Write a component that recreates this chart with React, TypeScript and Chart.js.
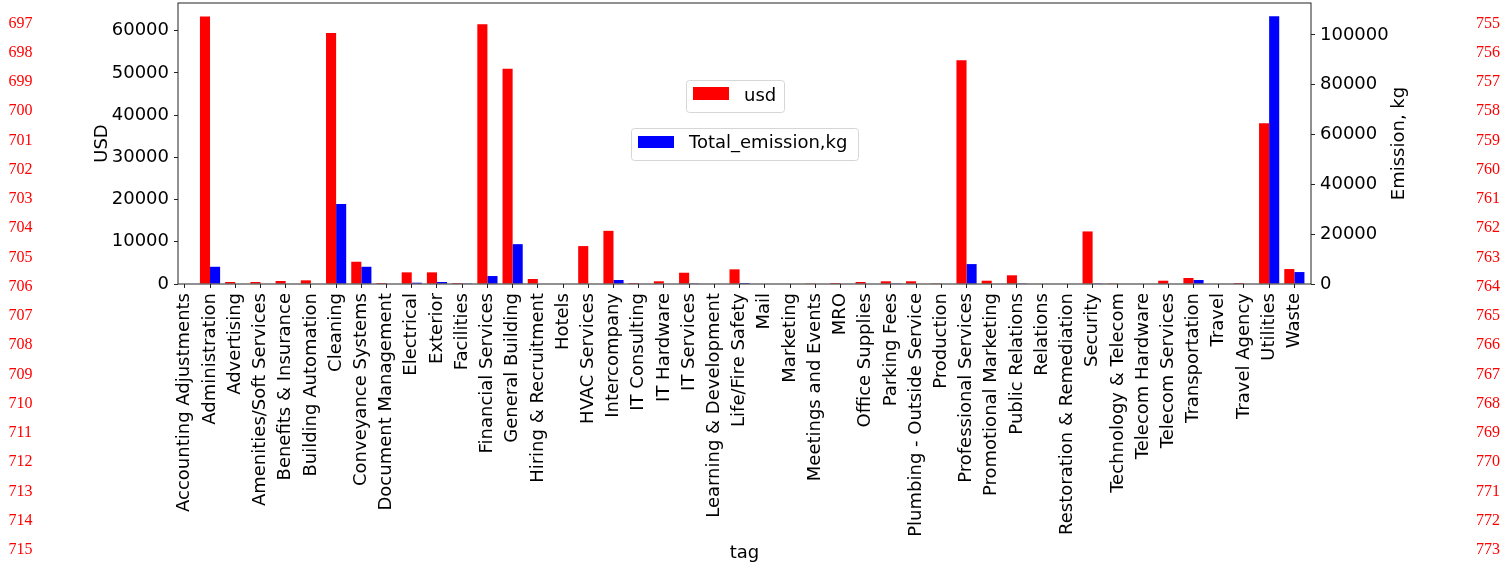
import React, { useEffect, useRef } from "react";
import { Chart, registerables } from "chart.js";

Chart.register(...registerables);

const CATEGORIES = [
  "Accounting Adjustments",
  "Administration",
  "Advertising",
  "Amenities/Soft Services",
  "Benefits & Insurance",
  "Building Automation",
  "Cleaning",
  "Conveyance Systems",
  "Document Management",
  "Electrical",
  "Exterior",
  "Facilities",
  "Financial Services",
  "General Building",
  "Hiring & Recruitment",
  "Hotels",
  "HVAC Services",
  "Intercompany",
  "IT Consulting",
  "IT Hardware",
  "IT Services",
  "Learning & Development",
  "Life/Fire Safety",
  "Mail",
  "Marketing",
  "Meetings and Events",
  "MRO",
  "Office Supplies",
  "Parking Fees",
  "Plumbing - Outside Service",
  "Production",
  "Professional Services",
  "Promotional Marketing",
  "Public Relations",
  "Relations",
  "Restoration & Remediation",
  "Security",
  "Technology & Telecom",
  "Telecom Hardware",
  "Telecom Services",
  "Transportation",
  "Travel",
  "Travel Agency",
  "Utilities",
  "Waste",
];

const USD_VALUES = [
  0, 63380, 470, 470, 710, 870, 59460, 5270, 240, 2760, 2760, 240, 61490,
  50960, 1180, 0, 8980, 12590, 240, 640, 2670, 0, 3470, 0, 0, 170, 240, 470,
  640, 640, 170, 52990, 780, 2060, 0, 0, 12450, 170, 0, 780, 1420, 0, 240,
  38100, 3540,
];

const EMISSION_VALUES = [
  0, 6920, 0, 0, 0, 0, 32120, 6920, 0, 520, 800, 280, 3200, 16000, 0, 0, 0,
  1600, 0, 0, 280, 0, 400, 0, 0, 0, 0, 0, 280, 0, 0, 8000, 0, 280, 0, 0, 280,
  0, 0, 0, 1600, 0, 0, 107480, 4800,
];

const SERIES_LABELS = ["usd", "Total_emission,kg"];
const SERIES_COLORS = ["#ff0000", "#0000ff"];

const USD_TICKS = [0, 10000, 20000, 30000, 40000, 50000, 60000];
const EMISSION_TICKS = [0, 20000, 40000, 60000, 80000, 100000];
const USD_AXIS_MAX = 66550;
const EMISSION_AXIS_MAX = 112850;

const X_TITLE = "tag";
const Y_TITLE = "USD";
const Y1_TITLE = "Emission, kg";

const LINE_NUMBERS_LEFT = [
  "697", "698", "699", "700", "701", "702", "703", "704", "705", "706",
  "707", "708", "709", "710", "711", "712", "713", "714", "715",
];
const LINE_NUMBERS_RIGHT = [
  "755", "756", "757", "758", "759", "760", "761", "762", "763", "764",
  "765", "766", "767", "768", "769", "770", "771", "772", "773",
];

const W = 1512;
const H = 565;
const FONT = "'DejaVu Sans', 'Noto Sans', sans-serif";
const AREA = { left: 178, right: 1311, top: 3, bottom: 284 };

function roundRectPath(ctx: CanvasRenderingContext2D, x: number, y: number, w: number, h: number, r: number) {
  ctx.beginPath();
  ctx.moveTo(x + r, y);
  ctx.lineTo(x + w - r, y);
  ctx.arcTo(x + w, y, x + w, y + r, r);
  ctx.lineTo(x + w, y + h - r);
  ctx.arcTo(x + w, y + h, x + w - r, y + h, r);
  ctx.lineTo(x + r, y + h);
  ctx.arcTo(x, y + h, x, y + h - r, r);
  ctx.lineTo(x, y + r);
  ctx.arcTo(x, y, x + r, y, r);
  ctx.closePath();
}

function drawLegendBox(
  ctx: CanvasRenderingContext2D,
  box: { x: number; y: number; w: number; h: number },
  swatch: { x: number; y: number; w: number; h: number },
  color: string,
  text: string,
  tx: number,
  ty: number
) {
  roundRectPath(ctx, box.x + 0.5, box.y + 0.5, box.w, box.h, 3);
  ctx.fillStyle = "rgba(255,255,255,0.8)";
  ctx.fill();
  ctx.strokeStyle = "#d6d6d6";
  ctx.lineWidth = 1;
  ctx.stroke();
  ctx.fillStyle = color;
  ctx.fillRect(swatch.x, swatch.y, swatch.w, swatch.h);
  ctx.fillStyle = "#000";
  ctx.font = `18px ${FONT}`;
  ctx.textAlign = "left";
  ctx.textBaseline = "alphabetic";
  ctx.fillText(text, tx, ty);
}

const overlayPlugin = {
  id: "overlay",
  afterDraw(chart: any) {
    const { ctx, chartArea } = chart;
    const { left, right, top, bottom } = chartArea;
    ctx.save();
    ctx.strokeStyle = "#222";
    ctx.lineWidth = 1;
    ctx.strokeRect(left, top, right - left, bottom - top);

    ctx.fillStyle = "#000";
    ctx.font = `18px ${FONT}`;
    ctx.textAlign = "center";
    ctx.textBaseline = "alphabetic";
    const midY = (top + bottom) / 2;
    ctx.save();
    ctx.translate(left - 71.5, midY);
    ctx.rotate(-Math.PI / 2);
    ctx.fillText(Y_TITLE, 0, 0);
    ctx.restore();
    ctx.save();
    ctx.translate(right + 93, midY);
    ctx.rotate(-Math.PI / 2);
    ctx.fillText(Y1_TITLE, 0, 0);
    ctx.restore();
    ctx.fillText(X_TITLE, (left + right) / 2, 558);

    drawLegendBox(
      ctx,
      { x: 686, y: 80, w: 98, h: 32 },
      { x: 693, y: 87, w: 36, h: 13 },
      SERIES_COLORS[0],
      SERIES_LABELS[0],
      744,
      101
    );
    drawLegendBox(
      ctx,
      { x: 631, y: 128, w: 227, h: 32 },
      { x: 638, y: 136, w: 36, h: 12 },
      SERIES_COLORS[1],
      SERIES_LABELS[1],
      689,
      148
    );
    ctx.restore();
  },
};

export default function App() {
  const ref = useRef<HTMLCanvasElement>(null);

  useEffect(() => {
    const canvas = ref.current;
    if (!canvas) return;
    const tickFont = { family: FONT, size: 18 };
    const chart = new Chart(canvas, {
      type: "bar",
      data: {
        datasets: [
          {
            label: SERIES_LABELS[0],
            data: CATEGORIES.map((_, i) => ({ x: i, y: USD_VALUES[i] })),
            backgroundColor: SERIES_COLORS[0],
            yAxisID: "y",
            categoryPercentage: 0.8,
            barPercentage: 1.0,
          },
          {
            label: SERIES_LABELS[1],
            data: CATEGORIES.map((_, i) => ({ x: i, y: EMISSION_VALUES[i] })),
            backgroundColor: SERIES_COLORS[1],
            yAxisID: "y1",
            categoryPercentage: 0.8,
            barPercentage: 1.0,
          },
        ],
      } as any,
      options: {
        responsive: false,
        animation: false,
        devicePixelRatio: 1,
        layout: { padding: { top: AREA.top, left: 0, right: 0, bottom: 0 } },
        plugins: {
          legend: { display: false },
          tooltip: { enabled: false },
        },
        scales: {
          x: {
            type: "linear",
            position: "bottom",
            min: -0.27,
            max: 44.66,
            offset: false,
            grid: {
              display: true,
              offset: false,
              drawOnChartArea: false,
              drawTicks: true,
              tickLength: 4,
              color: "#222",
            },
            border: { display: false },
            ticks: {
              autoSkip: false,
              maxRotation: 90,
              minRotation: 90,
              padding: 5,
              color: "#000",
              font: tickFont,
              callback: (v: any) => CATEGORIES[Number(v)] ?? "",
            },
            afterBuildTicks: (s: any) => {
              s.ticks = CATEGORIES.map((_, i) => ({ value: i }));
            },
            afterFit: (s: any) => {
              s.height = H - AREA.bottom;
              s.paddingLeft = 0;
              s.paddingRight = 0;
            },
          },
          y: {
            type: "linear",
            position: "left",
            min: 0,
            max: USD_AXIS_MAX,
            grid: {
              display: true,
              drawOnChartArea: false,
              drawTicks: true,
              tickLength: 4,
              color: "#222",
            },
            border: { display: false },
            ticks: {
              padding: 5,
              color: "#000",
              font: tickFont,
              callback: (v: any) => String(v),
            },
            afterBuildTicks: (s: any) => {
              s.ticks = USD_TICKS.map((v) => ({ value: v }));
            },
            afterFit: (s: any) => {
              s.width = AREA.left;
              s.paddingTop = 0;
              s.paddingBottom = 0;
            },
          },
          y1: {
            type: "linear",
            position: "right",
            min: 0,
            max: EMISSION_AXIS_MAX,
            grid: {
              display: true,
              drawOnChartArea: false,
              drawTicks: true,
              tickLength: 4,
              color: "#222",
            },
            border: { display: false },
            ticks: {
              padding: 5,
              color: "#000",
              font: tickFont,
              callback: (v: any) => String(v),
            },
            afterBuildTicks: (s: any) => {
              s.ticks = EMISSION_TICKS.map((v) => ({ value: v }));
            },
            afterFit: (s: any) => {
              s.width = W - AREA.right;
              s.paddingTop = 0;
              s.paddingBottom = 0;
            },
          },
        },
      } as any,
      plugins: [overlayPlugin],
    });
    return () => chart.destroy();
  }, []);

  const numStyle = (x: number, y: number): React.CSSProperties => ({
    position: "absolute",
    left: x,
    top: y,
    transform: "translateY(-50%)",
    font: "16px 'Liberation Serif', serif",
    lineHeight: 1,
    color: "#ff0000",
    whiteSpace: "nowrap",
  });

  return (
    <div
      style={{
        position: "fixed",
        left: 0,
        top: 0,
        width: W,
        height: H,
        background: "#fff",
        overflow: "hidden",
      }}
    >
      <canvas
        ref={ref}
        width={W}
        height={H}
        style={{ position: "absolute", left: 0, top: 0, width: W, height: H }}
      />
      {LINE_NUMBERS_LEFT.map((n, i) => (
        <div key={"l" + n} style={numStyle(8.5, 22.7 + i * 29.24)}>
          {n}
        </div>
      ))}
      {LINE_NUMBERS_RIGHT.map((n, i) => (
        <div key={"r" + n} style={numStyle(1476, 22.7 + i * 29.24)}>
          {n}
        </div>
      ))}
    </div>
  );
}
